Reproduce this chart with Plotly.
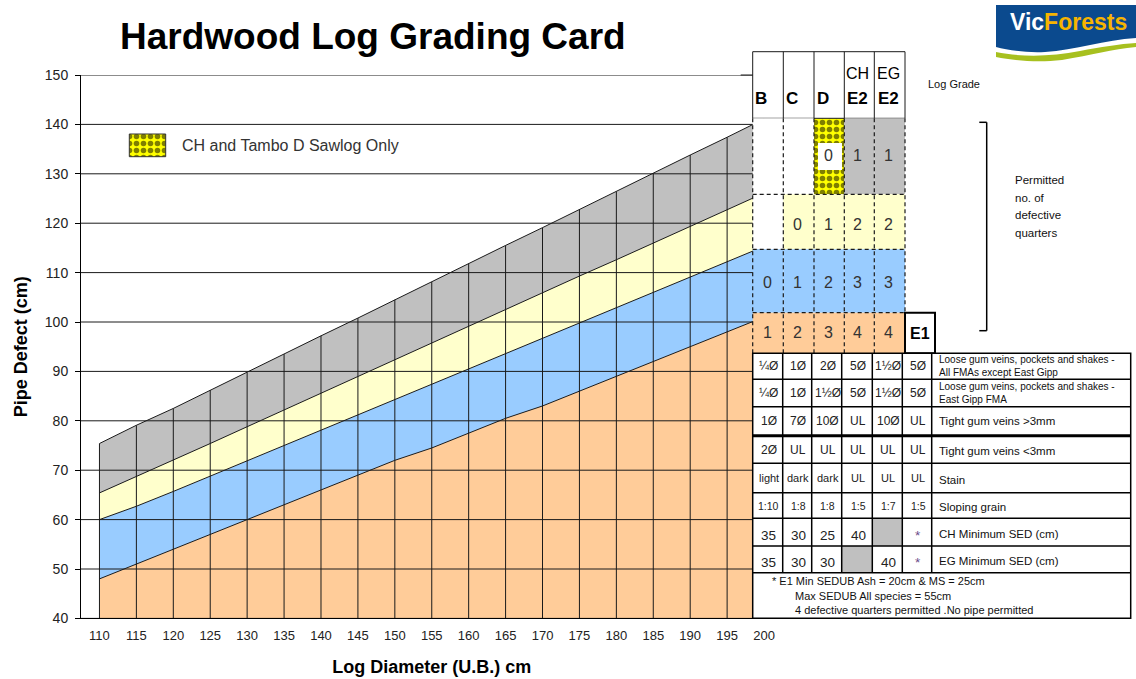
import plotly.graph_objects as go

W, H = 1136, 679
FONT = "Arial, Liberation Sans, sans-serif"

# ---------------- data ----------------
diameters = [110, 115, 120, 125, 130, 135, 140, 145, 150, 155, 160, 165, 170, 175, 180, 185, 190, 195, 200]
orange_top = [48, 51, 54, 57, 60, 63, 66, 69, 72, 74.5, 77.5, 80.5, 83, 86, 89, 92, 95, 98, 101]
blue_top = [60, 62.7, 65.7, 68.8, 71.9, 75, 78.1, 81.2, 84.3, 87.4, 90.5, 93.6, 96.7, 99.8, 102.9, 106, 109.1, 112.2, 115.3]
yellow_top = [65.4, 68.7, 72.1, 75.4, 78.8, 82.2, 85.6, 89, 92.4, 95.7, 99.1, 102.5, 105.9, 109.3, 112.6, 116, 119.4, 122.8, 126.1]
gray_top = [75.4, 79.1, 82.5, 86.2, 89.8, 93.5, 97.2, 100.8, 104.5, 108.1, 111.8, 115.5, 119.1, 122.8, 126.4, 130.1, 133.8, 137.4, 141.1]
y_ticks = [40, 50, 60, 70, 80, 90, 100, 110, 120, 130, 140, 150]

grade_top = ["", "", "", "CH", "EG"]
grade_bottom = ["B", "C", "D", "E2", "E2"]
permitted_gray = ["", "", "0", "1", "1"]
permitted_yellow = ["", "0", "1", "2", "2"]
permitted_blue = ["0", "1", "2", "3", "3"]
permitted_orange = ["1", "2", "3", "4", "4"]

loose_all = ["¼Ø", "1Ø", "2Ø", "5Ø", "1½Ø", "5Ø"]
loose_eg = ["¼Ø", "1Ø", "1½Ø", "5Ø", "1½Ø", "5Ø"]
tight_gt3 = ["1Ø", "7Ø", "10Ø", "UL", "10Ø", "UL"]
tight_lt3 = ["2Ø", "UL", "UL", "UL", "UL", "UL"]
stain = ["light", "dark", "dark", "UL", "UL", "UL"]
sloping = ["1:10", "1:8", "1:8", "1:5", "1:7", "1:5"]
ch_sed = ["35", "30", "25", "40", None, "*"]
eg_sed = ["35", "30", "30", None, "40", "*"]
row_desc = [
    ["Loose gum veins, pockets and shakes -", "All FMAs except East Gipp"],
    ["Loose gum veins, pockets and shakes -", "East Gipp FMA"],
    ["Tight gum veins >3mm"],
    ["Tight gum veins <3mm"],
    ["Stain"],
    ["Sloping grain"],
    ["CH Minimum SED (cm)"],
    ["EG Minimum SED (cm)"],
]
footnote = ["* E1 Min SEDUB Ash = 20cm & MS = 25cm",
            "Max SEDUB All species = 55cm",
            "4 defective quarters permitted .No pipe permitted"]
legend_label = "CH and Tambo D Sawlog Only"

ORANGE, BLUE, YELLOW, GRAY = "#ffcc99", "#99ccff", "#ffffcc", "#c0c0c0"
LINE = "#1a1a1a"

fig = go.Figure()

# ---------------- main chart ----------------
fig.add_trace(go.Scatter(x=diameters, y=orange_top, mode="lines", fill="tozeroy",
                         fillcolor=ORANGE, line=dict(color=LINE, width=1), hoverinfo="skip"))
fig.add_trace(go.Scatter(x=diameters, y=blue_top, mode="lines", fill="tonexty",
                         fillcolor=BLUE, line=dict(color=LINE, width=1), hoverinfo="skip"))
fig.add_trace(go.Scatter(x=diameters, y=yellow_top, mode="lines", fill="tonexty",
                         fillcolor=YELLOW, line=dict(color=LINE, width=1), hoverinfo="skip"))
fig.add_trace(go.Scatter(x=diameters, y=gray_top, mode="lines", fill="tonexty",
                         fillcolor=GRAY, line=dict(color=LINE, width=1), hoverinfo="skip"))

x_lo, x_hi = diameters[0] - 2.5, diameters[-1] + 2.5
gx, gy = [], []
for t in y_ticks:
    gx += [x_lo, x_hi, None]
    gy += [t, t, None]
fig.add_trace(go.Scatter(x=gx, y=gy, mode="lines", line=dict(color=LINE, width=1), hoverinfo="skip"))
dx, dy = [], []
for d, g in zip(diameters, gray_top):
    dx += [d, d, None]
    dy += [y_ticks[0], g, None]
fig.add_trace(go.Scatter(x=dx, y=dy, mode="lines", line=dict(color=LINE, width=1), hoverinfo="skip"))

# ---------------- pixel overlay helpers ----------------
shapes, annos = [], []


def rect(x0, y0, x1, y1, fill, lw=0, color=LINE, dash=None):
    shapes.append(dict(type="rect", xref="x2", yref="y2", x0=x0, y0=y0, x1=x1, y1=y1,
                       fillcolor=fill, line=dict(width=lw, color=color, dash=dash), layer="above"))


def seg(x0, y0, x1, y1, w=1, dash=None, color=LINE):
    shapes.append(dict(type="line", xref="x2", yref="y2", x0=x0, y0=y0, x1=x1, y1=y1,
                       line=dict(width=w, color=color, dash=dash), layer="above"))


def txt(x, y, s, size, bold=False, color="#222", xa="center", ya="middle"):
    annos.append(dict(x=x, y=y, xref="x2", yref="y2", text=(f"<b>{s}</b>" if bold else s),
                      showarrow=False, xanchor=xa, yanchor=ya,
                      font=dict(size=size, color=color, family=FONT)))


def pattern_box(x0, y0, x1, y1, border=0):
    fig.add_trace(go.Scatter(x=[x0, x1, x1, x0, x0], y=[y0, y0, y1, y1, y0],
                             xaxis="x2", yaxis="y2", mode="lines", fill="toself",
                             line=dict(width=border, color="#333"),
                             fillpattern=dict(shape=".", bgcolor="#ffff00", fgcolor="#000000",
                                              size=7, solidity=0.5),
                             hoverinfo="skip"))


# ---------------- grade table (top) ----------------
gcols = [752.7, 783.3, 814, 844.3, 874.3, 905]
hdr_top, hdr_bot = 51.7, 118.3
grow = [118.3, 194.3, 249.3, 312.7, 353.3]
DASH = "4px,3px"

# header
rect(gcols[0], hdr_top, gcols[-1], hdr_bot, "white", lw=1)
for x in gcols[1:-1]:
    seg(x, hdr_top, x, hdr_bot, 1)
seg(gcols[0] - 12, 75, gcols[0], 75, 1)
hdr_x_bot = [760.7, 791.7, 822.7, 857.3, 888.3]
for i in range(5):
    txt(hdr_x_bot[i], 98.5, grade_bottom[i], 17, bold=True, color="#000")
    if grade_top[i]:
        txt(hdr_x_bot[i], 73, grade_top[i], 16, color="#000")

# grade rows fill
row_fills = [
    ["white", "white", None, GRAY, GRAY],
    ["white", YELLOW, YELLOW, YELLOW, YELLOW],
    [BLUE] * 5,
    [ORANGE] * 5,
]
row_vals = [permitted_gray, permitted_yellow, permitted_blue, permitted_orange]
row_text_y = [155, 224.3, 282.3, 332.5]
num_x = [767, 797.5, 828, 857.5, 888.5]
for r in range(4):
    for c in range(5):
        f = row_fills[r][c]
        if f is not None:
            rect(gcols[c], grow[r], gcols[c + 1], grow[r + 1], f)

# patterned D cell (CH and Tambo only)
pattern_box(gcols[2], grow[0], gcols[3], grow[1])
rect(818, 143, 842, 170, "white")

for r in range(4):
    for c in range(5):
        v = row_vals[r][c]
        if v:
            txt(num_x[c], row_text_y[r], v, 16, color="#333")

# dashed borders
for x in gcols[:-1]:
    seg(x, grow[0], x, grow[-1], 1.2, DASH)
seg(gcols[-1], grow[0], gcols[-1], grow[3], 1.2, DASH)
for y in grow[1:4]:
    seg(gcols[0], y, gcols[-1], y, 1.2, DASH)

# E1 cell
rect(905, 312.7, 935, 353.3, "white", lw=2, color="#000")
txt(920, 333, "E1", 16, bold=True, color="#000")

# ---------------- lower table ----------------
lcols = [752.7, 782.7, 811.7, 841.7, 872.3, 902.3, 931.7, 1130.7]
lrows = [353.3, 379.3, 406.7, 435.7, 463.3, 492.7, 518.3, 546, 572.7, 618.3]
rect(lcols[0], lrows[0], lcols[-1], lrows[-1], "white")
rows_vals = [loose_all, loose_eg, tight_gt3, tight_lt3, stain, sloping, ch_sed, eg_sed]
val_sizes = [12, 12, 12, 12, 11, 10.5, 13.5, 13.5]
for r, vals in enumerate(rows_vals):
    yc = (lrows[r] + lrows[r + 1]) / 2
    if r >= 6:
        yc += 3
    for c, v in enumerate(vals):
        if v is None:
            rect(lcols[c], lrows[r], lcols[c + 1], lrows[r + 1], GRAY)
        else:
            txt((lcols[c] + lcols[c + 1]) / 2 + 1, yc, v, val_sizes[r],
                color="#6a4a8a" if v == "*" else "#222")
    desc = row_desc[r]
    yc0 = (lrows[r] + lrows[r + 1]) / 2
    if len(desc) == 2:
        txt(937, yc0 - 6.5, desc[0], 10, xa="left", color="#111")
        txt(937, yc0 + 6, desc[1], 10, xa="left", color="#111")
    else:
        txt(937, yc0 + (1.5 if r >= 3 else 0), desc[0], 11.5, xa="left", color="#111")

for y in lrows[1:-1]:
    seg(lcols[0], y, lcols[-1], y, 3 if y == lrows[3] else 1.5, color="#000")
for x in lcols[1:-1]:
    seg(x, lrows[0], x, lrows[-2], 1.5, color="#000")
rect(lcols[0], lrows[0], lcols[-1], lrows[-1], "rgba(0,0,0,0)", lw=1.5, color="#000")

txt(770, 581, footnote[0], 11, xa="left", color="#111")
txt(793, 596, footnote[1], 11, xa="left", color="#111")
txt(793, 610, footnote[2], 11, xa="left", color="#111")

# ---------------- side notes ----------------
txt(926, 84, "Log Grade", 11, xa="left", color="#111")
for i, w in enumerate(["Permitted", "no. of", "defective", "quarters"]):
    txt(1013, 180 + i * 17.5, w, 11.5, xa="left", color="#111")
seg(986.7, 122.3, 986.7, 330.7, 1.5, color="#000")
seg(979.3, 122.3, 986.7, 122.3, 1.5, color="#000")
seg(979.3, 330.7, 986.7, 330.7, 1.5, color="#000")

# ---------------- legend ----------------
pattern_box(129.3, 134, 165.7, 156.7, border=1)
txt(180, 145.5, legend_label, 16, xa="left", color="#333")

# ---------------- title ----------------
txt(118, 36, "Hardwood Log Grading Card", 37, bold=True, xa="left", color="#000")

# ---------------- logo ----------------
shapes.append(dict(type="path", xref="x2", yref="y2", layer="above",
                   path="M996,5 L1136,5 L1136,38 C1105,40 1075,50 1045,52 C1025,53 1008,50 996,47 Z",
                   fillcolor="#0b4a8e", line=dict(width=0)))
shapes.append(dict(type="path", xref="x2", yref="y2", layer="above",
                   path="M996,52 C1020,57 1050,57 1080,51 C1100,47 1120,44 1136,43 L1136,47 "
                        "C1112,49 1092,55 1062,60 C1035,63 1012,60 996,57 Z",
                   fillcolor="#a7c01f", line=dict(width=0)))
annos.append(dict(x=1068, y=22, xref="x2", yref="y2", showarrow=False, xanchor="center", yanchor="middle",
                  text="<b><span style='color:#ffffff'>Vic</span><span style='color:#f6b400'>Forests</span></b>",
                  font=dict(size=23, family=FONT)))

# ---------------- layout ----------------
fig.update_layout(
    width=W, height=H,
    margin=dict(l=0, r=0, t=0, b=0, pad=0, autoexpand=False),
    paper_bgcolor="white", plot_bgcolor="rgba(0,0,0,0)",
    showlegend=False,
    font=dict(family=FONT, color="#222"),
    shapes=shapes, annotations=annos,
    xaxis=dict(domain=[81 / W, 782.5 / W], range=[x_lo, x_hi], tickvals=diameters,
               ticktext=[str(d) for d in diameters], showgrid=False, zeroline=False,
               showline=True, linecolor="#000", linewidth=1, ticks="", ticklabelstandoff=5,
               tickfont=dict(size=13, color="#222", family=FONT), automargin=False,
               title=dict(text="<b>Log Diameter (U.B.) cm</b>", standoff=18,
                          font=dict(size=18, color="#000", family=FONT)),
               anchor="y", fixedrange=True),
    yaxis=dict(domain=[1 - 618.4 / H, 1 - 75 / H], range=[40, 150], tickvals=y_ticks,
               showgrid=False, zeroline=False, showline=True, linecolor="#000", linewidth=1,
               ticks="outside", ticklen=5, tickcolor="#000", ticklabelstandoff=4,
               tickfont=dict(size=14, color="#222", family=FONT), automargin=False,
               title=dict(text="<b>Pipe Defect (cm)</b>", standoff=12,
                          font=dict(size=18, color="#000", family=FONT)),
               anchor="x", fixedrange=True),
    xaxis2=dict(domain=[0, 1], range=[0, W], visible=False, anchor="y2", fixedrange=True,
                automargin=False),
    yaxis2=dict(domain=[0, 1], range=[H, 0], visible=False, anchor="x2", fixedrange=True,
                automargin=False),
)

fig.write_html("out.html", config={"displayModeBar": False},
               post_script="document.body.style.margin='0px';document.body.style.padding='0px';")
